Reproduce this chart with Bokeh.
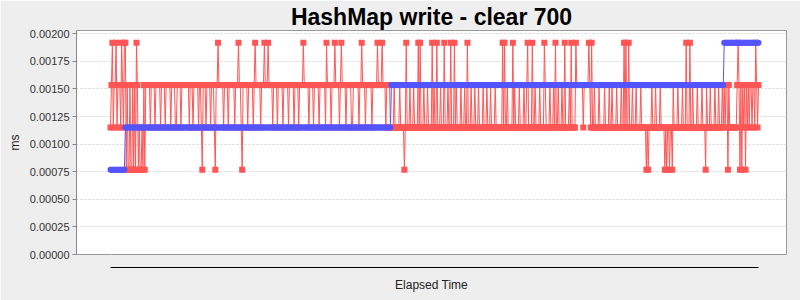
from bokeh.plotting import figure
from bokeh.models import (LinearAxis, FixedTicker, SingleIntervalTicker,
                          PrintfTickFormatter, Range1d, ColumnDataSource, Title)
from bokeh.embed import file_html
from bokeh.resources import INLINE

title_text = "HashMap write - clear 700"
y_label = "ms"
x_label = "Elapsed Time"

# measured levels (ms)
levels = {"2": 0.000768, "3": 0.001152, "4": 0.001536, "5": 0.00192}

# red series, one code per sample
red_codes = "".join([
    "3453445344", "4354355242", "2422424254", "232232", "4244",
    "4443444434", "4444344443", "4444434444", "3344443444", "4444434443",
    "4444434432", "4443444434", "4432445444", "4434444344", "4444344454",
    "4324444434", "4444345444", "4434445444", "5444434444", "3444443444",
    "4434444434", "4443444454", "4444344443", "4444434444", "4435444434",
    "4454444345", "4444344444", "3344444434", "4544434444", "4434444454",
    "4445444344", "4433334333",
    "3343333235", "3334333433", "3353533343", "3343333534", "3353334333",
    "5333433533", "3534333343", "3343353334", "3334333433", "3343334333",
    "4333343333", "3335353343", "3333534333", "3433334334", "5333353343",
    "3334333354", "3333433343", "5334333433", "5333343533", "3354444444",
    "3444445435", "3343333433", "3334333343", "3433334333", "3433535335",
    "3334333433", "3343333323", "2333433343", "3334333323", "2332332433",
    "3343333433", "3533353343", "3334333343", "3324333433", "3343334333",
    "4343442433", "3333334542", "4243424343", "4434435434",
])

# blue series as (value, number of samples) runs
blue_runs = [(0.000768, 16), (0.001152, 287), (0.001536, 359), (0.00192, 38)]

red = [levels[c] for c in red_codes]
blue = []
for v, n in blue_runs:
    blue += [v] * n
x = list(range(len(red)))

RED = "#FF5555"
BLUE = "#5555FF"
FONT = "Liberation Sans"

src = ColumnDataSource(dict(x=x, red=red, blue=blue))

p = figure(width=800, height=300, output_backend="svg", toolbar_location=None,
           x_range=Range1d(-36.7, 729.2), y_range=Range1d(0, 0.00203),
           x_axis_type=None,
           min_border_left=76, min_border_right=14, min_border_top=29,
           min_border_bottom=46)

p.border_fill_color = "#EEEEEE"
p.background_fill_color = "white"
p.outline_line_color = "#999999"

p.add_layout(Title(text=title_text, text_font=FONT, text_font_size="23px",
                   text_font_style="bold", align="center", text_color="black",
                   standoff=2, offset=0), "above")

yax = p.yaxis[0]
yax.ticker = SingleIntervalTicker(interval=0.00025, num_minor_ticks=0)
yax.formatter = PrintfTickFormatter(format="%.5f")
yax.axis_label = y_label
yax.axis_label_text_font = FONT
yax.axis_label_text_font_size = "12px"
yax.axis_label_text_font_style = "normal"
yax.axis_label_text_color = "#222222"
yax.major_label_text_font = FONT
yax.major_label_text_font_size = "11px"
yax.major_label_text_color = "#333333"
yax.axis_line_color = "#888888"
yax.major_tick_line_color = "#888888"
yax.major_tick_out = 4
yax.major_tick_in = 0
yax.minor_tick_line_color = None
yax.major_label_standoff = 3

p.ygrid.grid_line_color = "#d4d4d4"
p.ygrid.grid_line_dash = "2 2"

# invisible spacer so the time axis sits a little below the plot
spacer = LinearAxis(ticker=FixedTicker(ticks=[0]), axis_line_color=None,
                    major_tick_line_color="#EEEEEE", minor_tick_line_color=None,
                    major_tick_out=13, major_tick_in=0,
                    major_label_overrides={0: ""}, major_label_standoff=0,
                    major_label_text_font_size="1px")
p.add_layout(spacer, "below")

xax = LinearAxis(ticker=FixedTicker(ticks=[]), bounds=(0, len(x) - 1),
                 axis_line_color="black", axis_label=x_label,
                 major_tick_line_color=None, minor_tick_line_color=None,
                 major_tick_out=0, major_tick_in=0,
                 major_label_text_font_size="0px",
                 axis_label_standoff=10,
                 axis_label_text_font=FONT, axis_label_text_font_size="12px",
                 axis_label_text_font_style="normal",
                 axis_label_text_color="#222222")
p.add_layout(xax, "below")

p.line("x", "red", source=src, line_color=RED, line_width=1)
p.line("x", "blue", source=src, line_color=BLUE, line_width=1)
p.scatter("x", "red", source=src, marker="square", size=6,
          fill_color=RED, line_color=None)
p.scatter("x", "blue", source=src, marker="circle", size=6,
          fill_color=BLUE, line_color=None)

open("out.html", "w").write(file_html(p, INLINE))
